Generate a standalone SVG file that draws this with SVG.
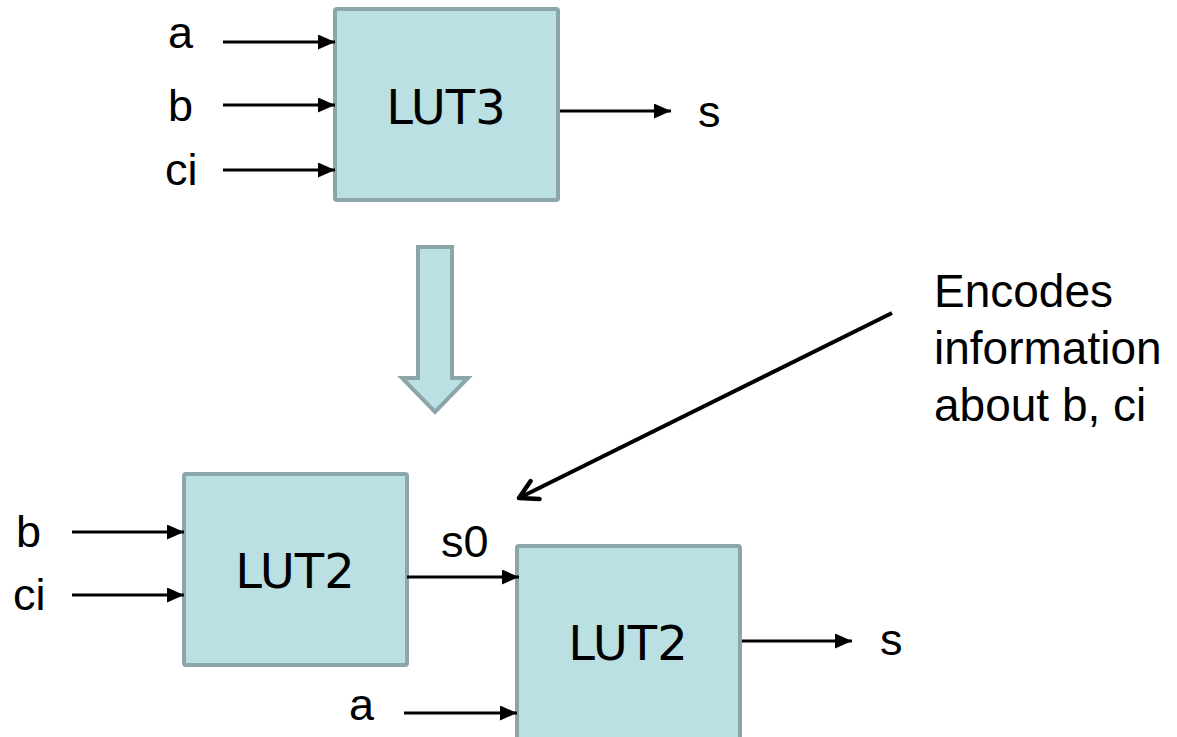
<svg xmlns="http://www.w3.org/2000/svg" width="1177" height="737" viewBox="0 0 1177 737">
<style>
.box{fill:#BBE0E3;stroke:#8BA5A8;stroke-width:4}
.lut{font-family:"DejaVu Sans",Verdana,sans-serif;font-size:48px;fill:#000;text-anchor:middle}
.lbl{font-family:"Liberation Sans",Arial,sans-serif;font-size:45px;fill:#000}
.note{font-family:"Liberation Sans",Arial,sans-serif;font-size:46px;fill:#000}
.wire{stroke:#000;stroke-width:3;fill:none}
</style>
<defs>
<marker id="ah" markerUnits="userSpaceOnUse" markerWidth="19" markerHeight="15" refX="17" refY="7.5" orient="auto">
<path d="M0,0 L17,7.5 L0,15 Z" fill="#000"/>
</marker>
<marker id="open" markerUnits="userSpaceOnUse" markerWidth="28" markerHeight="28" refX="23" refY="14" orient="auto">
<path d="M5,4 L23,14 L5,24" fill="none" stroke="#000" stroke-width="4.5" stroke-linecap="round" stroke-linejoin="round"/>
</marker>
</defs>
<g id="lut3">
<rect class="box" x="335" y="9" width="223" height="191" rx="2"/>
<text class="lut" x="446" y="124">LUT3</text>
</g>
<g id="lut2a">
<rect class="box" x="184" y="474" width="223" height="191" rx="2"/>
<text class="lut" x="295" y="588">LUT2</text>
</g>
<g id="lut2b">
<rect class="box" x="517" y="546" width="223" height="195" rx="2"/>
<text class="lut" x="628" y="660">LUT2</text>
</g>
<g id="transform-arrow">
<polygon points="418,247 452,247 452,378 468,378 435,412 402,378 418,378" fill="#BBE0E3" stroke="#8BA5A8" stroke-width="4" stroke-linejoin="miter"/>
</g>
<g id="labels">
<text class="lbl" x="168" y="48">a</text>
<text class="lbl" x="168" y="121">b</text>
<text class="lbl" x="165" y="185">ci</text>
<text class="lbl" x="698" y="127">s</text>
<text class="lbl" x="16" y="547">b</text>
<text class="lbl" x="13" y="610">ci</text>
<text class="lbl" x="441" y="557">s0</text>
<text class="lbl" x="349" y="720">a</text>
<text class="lbl" x="880" y="655">s</text>
<text class="note" x="934" y="307">Encodes</text>
<text class="note" x="934" y="364">information</text>
<text class="note" x="934" y="421">about b, ci</text>
</g>
<g id="connectors">
<line class="wire" x1="223" y1="42" x2="335" y2="42" marker-end="url(#ah)"/>
<line class="wire" x1="223" y1="105" x2="335" y2="105" marker-end="url(#ah)"/>
<line class="wire" x1="223" y1="170" x2="335" y2="170" marker-end="url(#ah)"/>
<line class="wire" x1="560" y1="111" x2="671" y2="111" marker-end="url(#ah)"/>
<line class="wire" x1="72" y1="532" x2="184" y2="532" marker-end="url(#ah)"/>
<line class="wire" x1="72" y1="595" x2="184" y2="595" marker-end="url(#ah)"/>
<line class="wire" x1="407" y1="577" x2="519" y2="577" marker-end="url(#ah)"/>
<line class="wire" x1="404" y1="713" x2="517" y2="713" marker-end="url(#ah)"/>
<line class="wire" x1="742" y1="641" x2="852" y2="641" marker-end="url(#ah)"/>
<line class="wire" x1="892" y1="313" x2="519" y2="498" style="stroke-width:4" marker-end="url(#open)"/>
</g>
</svg>
